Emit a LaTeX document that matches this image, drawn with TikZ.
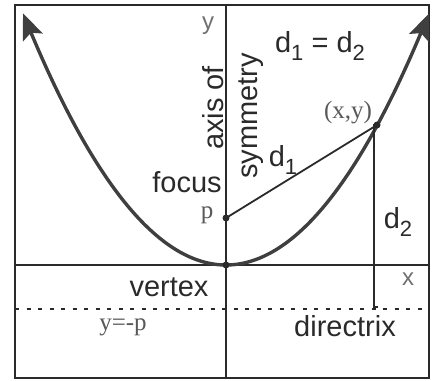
\documentclass[tikz,border=0pt]{standalone}
\usepackage{fontspec}
\setmainfont{Liberation Sans}
\newfontfamily\seriffont{Liberation Serif}
\usetikzlibrary{arrows.meta}
\definecolor{ink}{HTML}{2A2A2A}
\definecolor{lightink}{HTML}{707070}
\definecolor{serifink}{HTML}{585858}
\newcommand{\dsub}[1]{\raisebox{-0.28em}{\fontsize{22}{22}\selectfont #1}}
\tikzset{
  lbl/.style={text=ink, font=\fontsize{29}{32}\selectfont, inner sep=0pt},
  lightlbl/.style={text=lightink, font=\fontsize{24}{28}\selectfont, inner sep=0pt},
  seriflbl/.style={text=serifink, font=\seriffont\fontsize{25}{28}\selectfont, inner sep=0pt},
  thinline/.style={draw=ink, line width=1.8pt},
  curve/.style={draw=ink!90, line width=3.4pt, {Stealth[length=26pt,width=21pt,inset=5pt]}-{Stealth[length=26pt,width=21pt,inset=5pt]}},
  dotmark/.style={circle, fill=ink, inner sep=0pt, minimum size=7pt},
  dashline/.style={draw=ink, line width=1.8pt, dash pattern=on 4pt off 7.5pt}
}
\begin{document}
\begin{tikzpicture}[x=1pt,y=-1pt]
\useasboundingbox (0,0) rectangle (435,380);
% frame
\draw[thinline] (15,5) rectangle (429,378);
% axes
\coordinate (ytop) at (226,5);
\coordinate (ybot) at (226,378);
\coordinate (xl) at (15,265);
\coordinate (xr) at (429,265);
\draw[thinline] (ytop) -- (ybot);
\draw[thinline] (xl) -- (xr);
% directrix
\coordinate (dl) at (15,309);
\coordinate (dr) at (429,309);
\draw[dashline] (dl) -- (dr);
% parabola
\draw[curve, domain=-2.03:2.03, samples=120, smooth] plot ({226+100*\x},{265-61.1*\x*\x});
% points
\node[dotmark] (vertexpt) at (226,265) {};
\node[dotmark] (focuspt) at (226,218) {};
\node[dotmark] (pt) at (377,125) {};
\coordinate (foot) at (374,307);
\draw[thinline] (focuspt.center) -- (pt.center);
\draw[thinline] (pt.center) -- (374,125) -- (foot) -- ++(4,0);
% labels
\node[lightlbl] (ylab) at (208,26) {y};
\node[lightlbl] (xlab) at (408,279) {x};
\node[lbl, rotate=90] (axisof) at (213,108) {axis of};
\node[lbl, rotate=90] (sym) at (251,116) {symmetry};
\node[lbl] (eq) at (320,46) {d\dsub{1} = d\dsub{2}};
\node[seriflbl] (xy) at (348,113) {(x,y)};
\node[lbl] (d1) at (283,160) {d\dsub{1}};
\node[lbl] (focus) at (187,182) {focus};
\node[seriflbl] (p) at (207,215) {p};
\node[lbl] (d2) at (398,222) {d\dsub{2}};
\node[lbl] (vertex) at (169,287) {vertex};
\node[seriflbl] (ymp) at (123,327) {y=-p};
\node[lbl] (directrix) at (345,326) {directrix};
\end{tikzpicture}
\end{document}
